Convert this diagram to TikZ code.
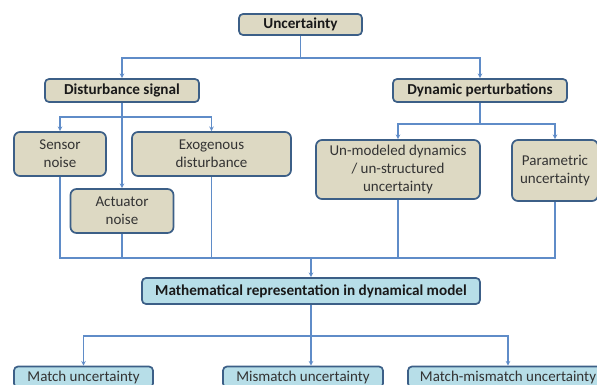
\documentclass[tikz,border=0pt]{standalone}
\usepackage{fontspec}
\setmainfont{Carlito}
\usepackage{xcolor}
\usepackage{tikz}
\usetikzlibrary{shapes,arrows,positioning,calc}

\definecolor{tanfill}{RGB}{221,217,195}
\definecolor{bluefill}{RGB}{183,222,232}
\definecolor{boxedge}{RGB}{60,95,135}
\definecolor{linkblue}{RGB}{95,140,200}

\begin{document}
\begin{tikzpicture}[x=1pt, y=-1pt, >=stealth]
  % Styles
  \tikzstyle{head} = [rectangle, draw=boxedge, fill=tanfill, line width=1.7pt, rounded corners=4pt, inner sep=0pt, align=center, font=\fontsize{15.2}{18}\selectfont\bfseries, text=black!90]
  \tikzstyle{leaf} = [rectangle, draw=boxedge, fill=tanfill, line width=1.7pt, rounded corners=6pt, inner sep=0pt, align=center, font=\fontsize{15}{18}\selectfont, text=black!80]
  \tikzstyle{model} = [head, fill=bluefill]
  \tikzstyle{kind} = [leaf, fill=bluefill, rounded corners=4pt]
  \tikzstyle{link} = [draw=linkblue, line width=1.1pt]

  \useasboundingbox (0,0) rectangle (597,385);

  % Nodes
  \node [head, minimum width=123pt, minimum height=21pt] (unc) at (300.5,24.5) {Uncertainty};
  \node [head, minimum width=154pt, minimum height=23pt] (dist) at (122,90.5) {Disturbance signal};
  \node [head, minimum width=174pt, minimum height=23pt] (dyn) at (480,90.5) {Dynamic perturbations};
  \node [leaf, minimum width=92pt, minimum height=44pt] (sensor) at (60,154) {Sensor\\noise};
  \node [leaf, minimum width=159pt, minimum height=44pt] (exo) at (211.5,154) {Exogenous\\disturbance};
  \node [leaf, minimum width=103pt, minimum height=44pt] (act) at (122,211) {Actuator\\noise};
  \node [leaf, minimum width=164pt, minimum height=59pt] (unmod) at (398,169.5) {Un-modeled dynamics\\/ un-structured\\uncertainty};
  \node [leaf, minimum width=86pt, minimum height=61pt] (param) at (555,170.5) {Parametric\\uncertainty};
  \node [model, minimum width=338pt, minimum height=26pt] (math) at (311,291) {Mathematical representation in dynamical model};
  \node [kind, minimum width=139pt, minimum height=21pt] (match) at (83.5,377) {Match uncertainty};
  \node [kind, minimum width=160pt, minimum height=21pt] (mism) at (303,377) {Mismatch uncertainty};
  \node [kind, minimum width=200pt, minimum height=21pt] (mm) at (508,377) {Match-mismatch uncertainty};

  % Split points
  \coordinate (unc-split) at (300.5,58);
  \coordinate (dist-split) at (122,117);
  \coordinate (dyn-split) at (480,124);
  \coordinate (merge) at (311,258);
  \coordinate (math-split) at (311,336);

  % Paths / Edges
  \draw [link] (unc.south) -- (unc-split);
  \draw [link, ->] (unc-split) -| (dist.north);
  \draw [link, ->] (unc-split) -| (dyn.north);

  \draw [link, ->] (dist.south) -- (act.north);
  \draw [link, ->] (dist-split) -| (sensor.north);
  \draw [link, ->] (dist-split) -| (exo.north);

  \draw [link] (dyn.south) -- (dyn-split);
  \draw [link, ->] (dyn-split) -| (unmod.north);
  \draw [link, ->] (dyn-split) -| (param.north);

  \draw [link] (sensor.south) |- (merge) -| (param.south);
  \draw [link] (act.south) -- (act.south |- merge);
  \draw [link] (exo.south) -- (exo.south |- merge);
  \draw [link] (unmod.south) -- (unmod.south |- merge);
  \draw [link, ->] (merge) -- (math.north);

  \draw [link, ->] (math.south) -- (math.south |- mism.north);
  \draw [link, ->] (math-split) -| (match.north);
  \draw [link, ->] (math-split) -| (mm.north);

\end{tikzpicture}
\end{document}
